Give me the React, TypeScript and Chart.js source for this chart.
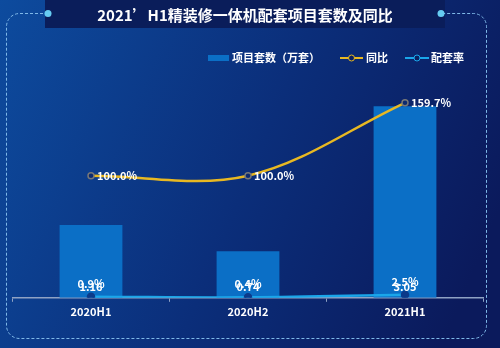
import React, { useEffect, useRef } from "react";
import { Chart, registerables } from "chart.js";

Chart.register(...registerables);

const categories = ["2020H1", "2020H2", "2021H1"];
const projectSets = [1.16, 0.74, 3.05];
const yoy = [100.0, 100.0, 159.7];
const matchRate = [0.9, 0.4, 2.5];
const titleText = "2021’H1精装修一体机配套项目套数及同比";
const legendLabels = ["项目套数（万套）", "同比", "配套率"];

const FONT = '"Noto Sans CJK SC", "Noto Sans", sans-serif';
const BAR_COLOR = "#0b6fc6";
const YOY_COLOR = "#e8b822";
const RATE_COLOR = "#1aa6ea";

const decorPlugin = {
  id: "decor",
  beforeDraw(chart: any) {
    const ctx = chart.ctx;
    const w = chart.width, h = chart.height;
    ctx.save();
    const g = ctx.createLinearGradient(0, 0, w, h * 0.6);
    g.addColorStop(0, "#0d4b9e");
    g.addColorStop(0.55, "#0b2e7a");
    g.addColorStop(1, "#0b1a5c");
    ctx.fillStyle = g;
    ctx.fillRect(0, 0, w, h);
    // title band
    ctx.fillStyle = "#0a1d5a";
    ctx.fillRect(45, 0, 400, 28);
    ctx.fillStyle = "#ffffff";
    ctx.font = `bold 15px ${FONT}`;
    ctx.textAlign = "center";
    ctx.textBaseline = "middle";
    ctx.fillText(titleText, 245, 15);
    // frame
    ctx.strokeStyle = "#7fb8e8";
    ctx.lineWidth = 1;
    ctx.setLineDash([3, 2]);
    const L = 6.5, R = 486.5, T = 13.5, B = 338.5, r = 13;
    ctx.beginPath();
    ctx.moveTo(48, T);
    ctx.lineTo(L + r, T);
    ctx.arcTo(L, T, L, T + r, r);
    ctx.lineTo(L, B - r);
    ctx.arcTo(L, B, L + r, B, r);
    ctx.lineTo(R - r, B);
    ctx.arcTo(R, B, R, B - r, r);
    ctx.lineTo(R, T + r);
    ctx.arcTo(R, T, R - r, T, r);
    ctx.lineTo(441, T);
    ctx.stroke();
    ctx.setLineDash([]);
    ctx.fillStyle = "#66ccf2";
    for (const x of [48, 441]) {
      ctx.beginPath();
      ctx.arc(x, T, 3.5, 0, Math.PI * 2);
      ctx.fill();
    }
    ctx.restore();
  },
  afterDraw(chart: any) {
    const ctx = chart.ctx;
    ctx.save();
    ctx.font = `bold 11px ${FONT}`;
    ctx.textBaseline = "middle";
    ctx.textAlign = "left";
    const y = 58;
    // bar legend
    ctx.fillStyle = BAR_COLOR;
    ctx.fillRect(208, y - 3, 21, 6);
    ctx.fillStyle = "#fff";
    ctx.fillText(legendLabels[0], 232, y);
    // yoy legend
    ctx.strokeStyle = YOY_COLOR;
    ctx.lineWidth = 2;
    ctx.beginPath();
    ctx.moveTo(340, y);
    ctx.lineTo(363, y);
    ctx.stroke();
    ctx.fillStyle = "#0b2060";
    ctx.beginPath();
    ctx.arc(351.5, y, 3, 0, Math.PI * 2);
    ctx.fill();
    ctx.strokeStyle = YOY_COLOR;
    ctx.lineWidth = 1;
    ctx.stroke();
    ctx.fillStyle = "#fff";
    ctx.fillText(legendLabels[1], 366, y);
    // rate legend
    ctx.strokeStyle = RATE_COLOR;
    ctx.lineWidth = 2;
    ctx.beginPath();
    ctx.moveTo(405, y);
    ctx.lineTo(429, y);
    ctx.stroke();
    ctx.fillStyle = "#0b2060";
    ctx.beginPath();
    ctx.arc(417, y, 3, 0, Math.PI * 2);
    ctx.fill();
    ctx.strokeStyle = RATE_COLOR;
    ctx.lineWidth = 1;
    ctx.stroke();
    ctx.fillStyle = "#fff";
    ctx.fillText(legendLabels[2], 431, y);
    ctx.restore();
  },
  afterDatasetsDraw(chart: any) {
    const ctx = chart.ctx;
    ctx.save();
    ctx.font = `bold 11px ${FONT}`;
    ctx.fillStyle = "#ffffff";
    ctx.textBaseline = "middle";
    const bottom = chart.chartArea.bottom;
    // bar labels inside bottom
    const barMeta = chart.getDatasetMeta(0);
    ctx.textAlign = "center";
    barMeta.data.forEach((el: any, i: number) => {
      ctx.fillText(projectSets[i].toFixed(2), el.x, bottom - 11);
    });
    // rate labels above points
    const rateMeta = chart.getDatasetMeta(2);
    rateMeta.data.forEach((el: any, i: number) => {
      ctx.fillText(matchRate[i].toFixed(1) + "%", el.x, el.y - 13);
    });
    // yoy labels to the right
    const yoyMeta = chart.getDatasetMeta(1);
    ctx.textAlign = "left";
    yoyMeta.data.forEach((el: any, i: number) => {
      ctx.fillText(yoy[i].toFixed(1) + "%", el.x + 6, el.y);
    });
    ctx.restore();
  },
};

export default function App() {
  const ref = useRef<HTMLCanvasElement>(null);
  useEffect(() => {
    if (!ref.current) return;
    const chart = new Chart(ref.current, {
      data: {
        labels: categories,
        datasets: [
          {
            type: "bar",
            label: legendLabels[0],
            data: projectSets,
            backgroundColor: BAR_COLOR,
            yAxisID: "y",
            barPercentage: 0.4,
            categoryPercentage: 1,
            order: 3,
          },
          {
            type: "line",
            label: legendLabels[1],
            data: yoy,
            borderColor: YOY_COLOR,
            borderWidth: 2.5,
            tension: 0.35,
            pointRadius: 3,
            pointBackgroundColor: "#0b2a70",
            pointBorderColor: "#777777",
            pointBorderWidth: 1.5,
            yAxisID: "y1",
            order: 1,
          },
          {
            type: "line",
            label: legendLabels[2],
            data: matchRate,
            borderColor: RATE_COLOR,
            borderWidth: 2.5,
            tension: 0.4,
            pointRadius: 3,
            pointBackgroundColor: "#0b3a8a",
            pointBorderColor: "#0b3a8a",
            yAxisID: "y1",
            order: 2,
          },
        ],
      } as any,
      options: {
        animation: false,
        responsive: false,
        maintainAspectRatio: false,
        layout: { padding: { left: 12.5, right: 16.5, top: 78, bottom: 27 } },
        plugins: { legend: { display: false }, tooltip: { enabled: false } },
        scales: {
          x: {
            offset: true,
            grid: { drawOnChartArea: false, tickLength: 4, color: "#8fa2c4", offset: true },
            border: { color: "#8fa2c4", width: 1.5 },
            ticks: { color: "#ffffff", font: { family: FONT, size: 11, weight: "bold" }, padding: 3 },
          },
          y: { display: false, min: 0, max: 3.5 },
          y1: { display: false, min: 0, max: 180 },
        },
      } as any,
      plugins: [decorPlugin],
    });
    return () => chart.destroy();
  }, []);
  return (
    <div style={{ position: "absolute", left: 0, top: 0, width: 500, height: 348 }}>
      <canvas ref={ref} width={500} height={348} style={{ display: "block" }} />
    </div>
  );
}
